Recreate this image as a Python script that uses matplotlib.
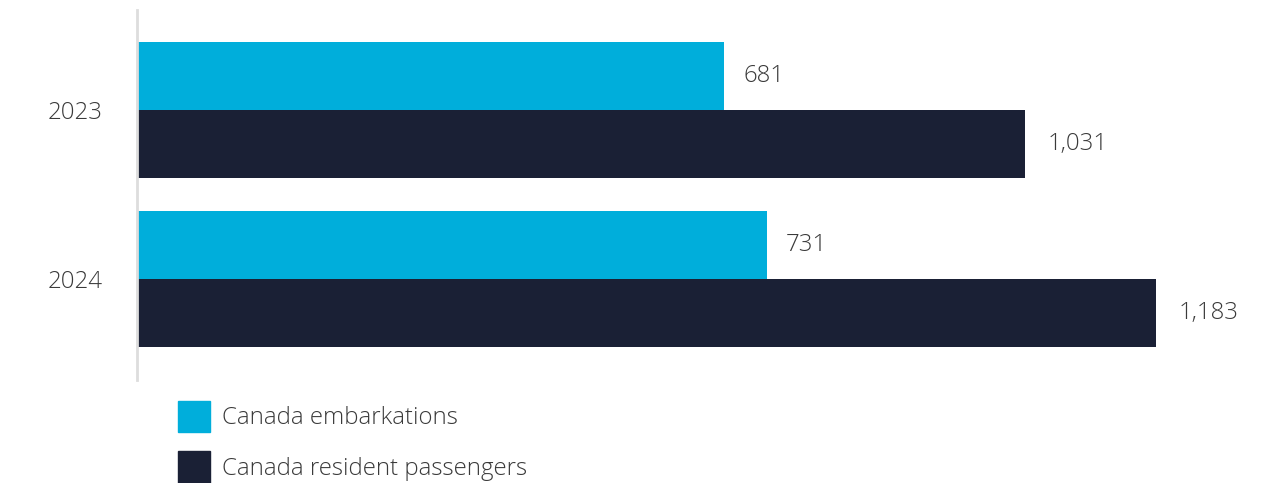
import matplotlib.pyplot as plt
import numpy as np
from matplotlib.patches import Patch

plt.rcParams["font.family"] = ["Open Sans", "DejaVu Sans"]
plt.rcParams["font.weight"] = "light"

years = ["2023", "2024"]
embarkations = [681, 731]
residents = [1031, 1183]
series_names = ["Canada embarkations", "Canada resident passengers"]
colors = ["#00AEDB", "#1A2035"]
text_color = "#3a3a3a"
fs = 17.3

fig = plt.figure(figsize=(12.65, 4.83), dpi=100)
ax = fig.add_axes([137 / 1265, 1 - 380 / 483, 1 - 137 / 1265 - 0.01, 370 / 483])

y = np.arange(len(years))
h = 0.405
b1 = ax.barh(y - h / 2, embarkations, height=h, color=colors[0])
b2 = ax.barh(y + h / 2, residents, height=h, color=colors[1])

ax.bar_label(b1, labels=[f"{v:,}" for v in embarkations], padding=14,
             fontsize=fs, color=text_color)
ax.bar_label(b2, labels=[f"{v:,}" for v in residents], padding=16,
             fontsize=fs, color=text_color)

ax.set_xlim(0, 1113 / 0.8597)
ax.set_ylim(1 + 101 / 169, -100 / 169)
ax.set_yticks(y)
ax.set_yticklabels(years, fontsize=fs, color=text_color)
ax.tick_params(axis="y", length=0, pad=25)
ax.set_xticks([])

for side in ["top", "right", "bottom"]:
    ax.spines[side].set_visible(False)
ax.spines["left"].set_color("#dddddd")
ax.spines["left"].set_linewidth(2)

handles = [Patch(color=c) for c in colors]
fig.legend(handles, series_names, loc="upper left",
           bbox_to_anchor=(178 / 1265, 1 - 401 / 483), frameon=False,
           fontsize=fs, labelcolor=text_color, borderpad=0, borderaxespad=0,
           handlelength=1.34, handleheight=1.62, handletextpad=0.5,
           labelspacing=0.8)

fig.savefig("out.png", dpi=100)
